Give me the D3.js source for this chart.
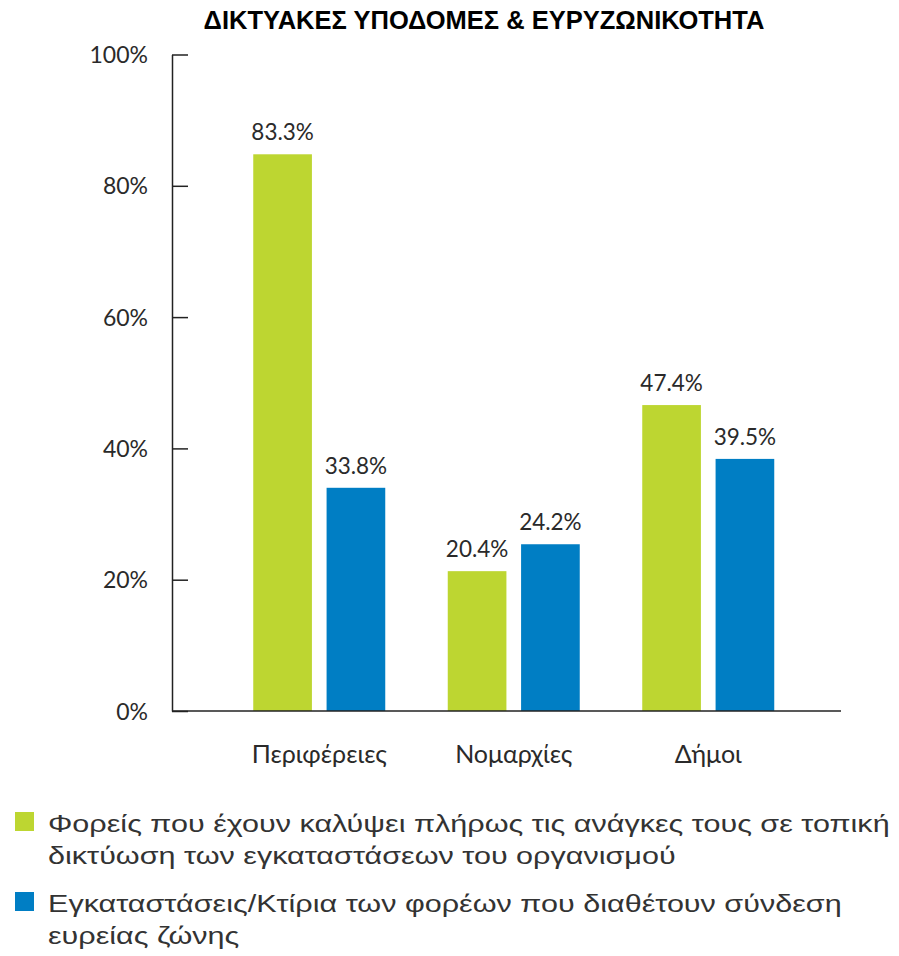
<!DOCTYPE html>
<html>
<head>
<meta charset="utf-8">
<script src="https://cdn.jsdelivr.net/npm/d3@7"></script>
<style>
    body { margin: 0; background: #fff; }
    svg { display: block; }
</style>
</head>
<body>
<svg id="chart"></svg>
<script>
// Categories and series
const categories = ['Περιφέρειες', 'Νομαρχίες', 'Δήμοι'];
const seriesKeys = ['network', 'broadband'];

// Bar heights as drawn in the picture (%)
const networkBars = [84.8, 21.3, 46.6];
const broadbandBars = [34.0, 25.4, 38.4];

// Printed value labels
const networkLabels = ['83.3%', '20.4%', '47.4%'];
const broadbandLabels = ['33.8%', '24.2%', '39.5%'];

// Axis ticks
const yTicks = [0, 20, 40, 60, 80, 100];

// Legend texts (wrapped as in the picture)
const legendLines = [
    ['Φορείς που έχουν καλύψει πλήρως τις ανάγκες τους σε τοπική', 'δικτύωση των εγκαταστάσεων του οργανισμού'],
    ['Εγκαταστάσεις/Κτίρια των φορέων που διαθέτουν σύνδεση', 'ευρείας ζώνης']
];

const title = 'ΔΙΚΤΥΑΚΕΣ ΥΠΟΔΟΜΕΣ & ΕΥΡΥΖΩΝΙΚΟΤΗΤΑ';

const colors = { network: '#bdd631', broadband: '#007ec4' };

const width = 899, height = 956;
const numFont = "Lato, 'Noto Sans', sans-serif";
const arial = "'Liberation Sans', Arial, sans-serif";

const svg = d3.select('#chart')
    .attr('width', width)
    .attr('height', height);

// Scales
const axisX = 172, baseY = 711, topY = 54.5, baseEnd = 841;

const y = d3.scaleLinear()
    .domain([0, 100])
    .range([baseY, topY]);

const x0 = d3.scaleBand()
    .domain(categories)
    .range([222, 805.5]);

const x1 = d3.scaleBand()
    .domain(seriesKeys)
    .range([-66, 66])
    .paddingInner(0.2);

// Title
svg.append('text')
    .attr('x', 484)
    .attr('y', 29)
    .attr('text-anchor', 'middle')
    .style('font-family', arial)
    .style('font-weight', 'bold')
    .style('font-size', '25.5px')
    .style('fill', '#000')
    .text(title);

// Y axis, ticks pointing inward
const yAxis = d3.axisLeft(y)
    .tickValues(yTicks)
    .tickSizeInner(-16)
    .tickSizeOuter(0)
    .tickPadding(24)
    .tickFormat(d => d + '%');

const gy = svg.append('g')
    .attr('transform', `translate(${axisX},0)`)
    .call(yAxis);

gy.select('.domain').attr('stroke', '#222').attr('stroke-width', 1.5);
gy.selectAll('.tick line').attr('stroke', '#222').attr('stroke-width', 1.5);
gy.selectAll('.tick text')
    .attr('dy', '0.35em')
    .style('font-family', numFont)
    .style('font-size', '23px')
    .style('fill', '#2a2a2a');

// Rows of data
const rows = categories.map((c, i) => ({
    category: c,
    values: [
        { key: 'network', value: networkBars[i], label: networkLabels[i] },
        { key: 'broadband', value: broadbandBars[i], label: broadbandLabels[i] }
    ]
}));

const groups = svg.append('g')
    .selectAll('g')
    .data(rows)
    .join('g')
    .attr('transform', d => `translate(${x0(d.category) + x0.bandwidth() / 2},0)`);

groups.selectAll('rect')
    .data(d => d.values)
    .join('rect')
    .attr('x', d => x1(d.key))
    .attr('width', x1.bandwidth())
    .attr('y', d => y(d.value))
    .attr('height', d => y(0) - y(d.value))
    .attr('fill', d => colors[d.key]);

groups.selectAll('text.value')
    .data(d => d.values)
    .join('text')
    .attr('class', 'value')
    .attr('x', d => x1(d.key) + x1.bandwidth() / 2)
    .attr('y', d => y(d.value) - 14)
    .attr('text-anchor', 'middle')
    .style('font-family', numFont)
    .style('font-size', '22.5px')
    .style('fill', '#2a2a2a')
    .text(d => d.label);

// Category labels
groups.append('text')
    .attr('y', 763)
    .attr('text-anchor', 'middle')
    .style('font-family', numFont)
    .style('font-size', '25px')
    .style('fill', '#2a2a2a')
    .text(d => d.category);

// Baseline
svg.append('line')
    .attr('x1', axisX)
    .attr('x2', baseEnd)
    .attr('y1', baseY)
    .attr('y2', baseY)
    .attr('stroke', '#222')
    .attr('stroke-width', 1.5);

// Legend: the text in the picture is stretched sideways,
// so the first line is fitted to its width and the rest follow.
const legend = svg.append('g');
const legendTop = [812, 892];
const legendTextX = 48, firstLineRight = 890;

const legendText = legend.append('g');

legendLines.forEach((lines, i) => {
    const key = seriesKeys[i];
    legend.append('rect')
        .attr('x', 15)
        .attr('y', legendTop[i])
        .attr('width', 19)
        .attr('height', 19)
        .attr('fill', colors[key]);

    const t = legendText.append('text')
        .style('font-family', arial)
        .style('font-size', '23.5px')
        .style('fill', '#333');

    lines.forEach((line, j) => {
        t.append('tspan')
            .attr('x', 0)
            .attr('y', legendTop[i] + 20 + j * 32)
            .text(line);
    });
});

const firstLine = legendText.select('tspan').node();
const sx = (firstLineRight - legendTextX) / firstLine.getComputedTextLength();
legendText.attr('transform', `translate(${legendTextX},0) scale(${sx},1)`);
</script>
</body>
</html>
